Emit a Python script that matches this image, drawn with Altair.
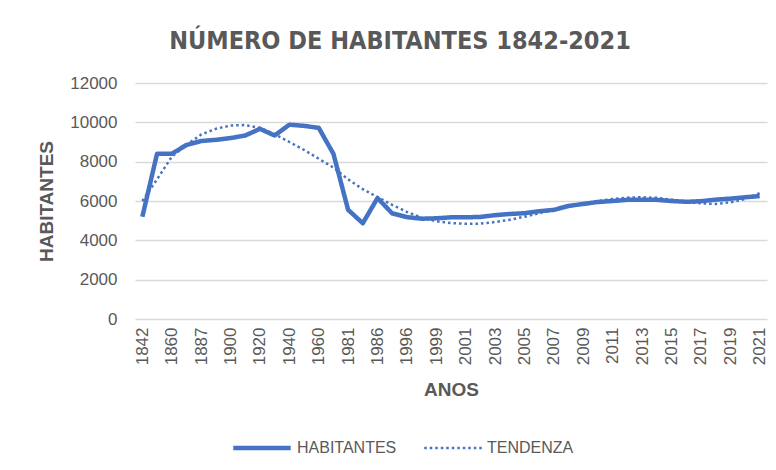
import altair as alt
import pandas as pd

anos = ["1842", "1850", "1860", "1878", "1887", "1890", "1900", "1911", "1920", "1930",
        "1940", "1950", "1960", "1970", "1981", "1984", "1986", "1991", "1996", "1998",
        "1999", "2000", "2001", "2002", "2003", "2004", "2005", "2006", "2007", "2008",
        "2009", "2010", "2011", "2012", "2013", "2014", "2015", "2016", "2017", "2018",
        "2019", "2020", "2021"]

habitantes = [5200, 8400, 8400, 8850, 9050, 9110, 9200, 9330, 9670, 9330,
              9880, 9820, 9720, 8400, 5550, 4870, 6150, 5370, 5180, 5100,
              5120, 5170, 5170, 5190, 5280, 5340, 5380, 5480, 5550, 5750,
              5850, 5950, 6000, 6060, 6070, 6060, 6000, 5960, 5990, 6070,
              6120, 6190, 6250]

tendenza = [6000, 7100, 8250, 8850, 9380, 9670, 9840, 9860, 9720, 9400,
            9000, 8600, 8150, 7700, 7100, 6600, 6200, 5800, 5450, 5150,
            4970, 4880, 4840, 4850, 4930, 5050, 5200, 5380, 5550, 5730,
            5880, 6000, 6100, 6170, 6190, 6160, 6070, 5960, 5880, 5850,
            5930, 6100, 6400]

etiquetas = anos[::2]
series = ["HABITANTES", "TENDENZA"]

rows = []
for a, v in zip(anos, habitantes):
    rows.append({"serie": "HABITANTES", "ano": a, "valor": v})
for a, v in zip(anos, tendenza):
    rows.append({"serie": "TENDENZA", "ano": a, "valor": v})
df = pd.DataFrame(rows)

FONT = "Liberation Sans"
GREY = "#595959"

leg = dict(title=None, orient="none", legendX=96, legendY=334,
           direction="horizontal", symbolType="stroke",
           symbolSize=3300, labelFontSize=16, labelColor=GREY,
           labelFont=FONT, labelOffset=4, columnPadding=22)

lines = alt.Chart(df).mark_line(strokeJoin="round").encode(
    x=alt.X("ano:N", sort=anos,
            scale=alt.Scale(paddingInner=0, paddingOuter=0),
            axis=alt.Axis(values=etiquetas, labelAngle=-90, labelFontSize=17,
                          labelColor=GREY, labelFont=FONT, ticks=False, domain=False,
                          labelPadding=8, labelAlign="right", labelBaseline="middle",
                          title="ANOS", titleFont=FONT, titleFontSize=19,
                          titleFontWeight="bold", titleColor=GREY, titlePadding=16)),
    y=alt.Y("valor:Q", scale=alt.Scale(domain=[0, 12000], nice=False),
            axis=alt.Axis(values=[0, 2000, 4000, 6000, 8000, 10000, 12000], format="d",
                          labelFontSize=17, labelColor=GREY, labelFont=FONT,
                          ticks=False, domain=False, labelPadding=18,
                          gridColor="#D9D9D9", gridWidth=1.3,
                          title="HABITANTES", titleFont=FONT, titleFontSize=19,
                          titleFontWeight="bold", titleColor=GREY, titlePadding=13)),
    color=alt.Color("serie:N", scale=alt.Scale(domain=series, range=["#4472C4", "#4472C4"]),
                    legend=alt.Legend(**leg)),
    strokeDash=alt.StrokeDash("serie:N", scale=alt.Scale(domain=series, range=[[1, 0], [2.5, 3]]),
                              legend=alt.Legend(**leg)),
    strokeWidth=alt.StrokeWidth("serie:N", scale=alt.Scale(domain=series, range=[4.5, 2.5]),
                                legend=alt.Legend(**leg)),
    order=alt.Order("serie:N"),
)

chart = lines.properties(
    width=632, height=236,
    autosize=alt.AutoSizeParams(type="none"),
    padding={"left": 127, "top": 75, "right": 1, "bottom": 145},
    title=alt.TitleParams("NÚMERO DE HABITANTES 1842-2021",
                          font="Liberation Sans Narrow, DejaVu Sans Condensed, Roboto",
                          fontSize=25, fontWeight="bold", color=GREY,
                          anchor="middle", dx=-51, offset=20),
).configure_view(stroke=None)

chart.save("out.html", embed_options={"renderer": "svg", "actions": False})
